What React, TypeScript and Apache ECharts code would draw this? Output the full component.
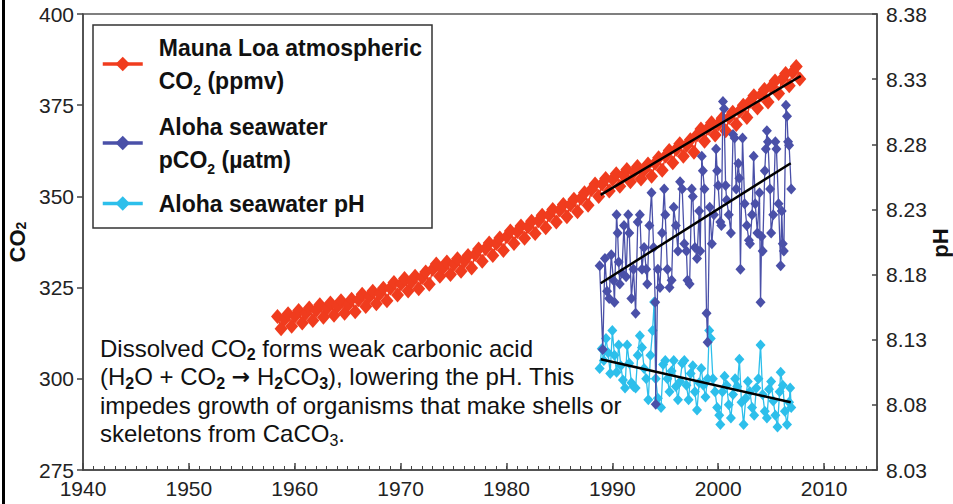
import React, { useEffect, useRef } from 'react';
import * as echarts from 'echarts';

// ---------- DATA ----------
const xTickYears = [1940, 1950, 1960, 1970, 1980, 1990, 2000, 2010];
const co2Ticks = [275, 300, 325, 350, 375, 400];
const phTickLabels = ['8.03', '8.08', '8.13', '8.18', '8.23', '8.28', '8.33', '8.38'];

// Mauna Loa atmospheric CO2 (ppmv): January, May, September readings per year
const mloYear = [1958, 1959, 1960, 1961, 1962, 1963, 1964, 1965, 1966, 1967, 1968, 1969, 1970, 1971, 1972, 1973, 1974, 1975, 1976, 1977, 1978, 1979, 1980, 1981, 1982, 1983, 1984, 1985, 1986, 1987, 1988, 1989, 1990, 1991, 1992, 1993, 1994, 1995, 1996, 1997, 1998, 1999, 2000, 2001, 2002, 2003, 2004, 2005, 2006, 2007];
const mloJan = [null, 316.3, 317.2, 317.9, 318.8, 319.3, 319.9, 320.3, 321.7, 322.5, 323.3, 324.9, 326.0, 326.6, 327.8, 330.0, 330.5, 331.4, 332.3, 334.1, 335.7, 337.1, 339.0, 340.4, 341.7, 343.3, 344.9, 346.3, 347.7, 349.5, 351.9, 353.4, 354.7, 355.9, 356.7, 357.4, 359.1, 361.1, 362.9, 364.0, 367.0, 368.7, 369.9, 371.6, 373.5, 376.1, 377.8, 380.1, 382.2, 384.1];
const mloMay = [317.1, 317.8, 318.7, 319.4, 320.3, 320.8, 321.4, 321.8, 323.2, 324.0, 324.8, 326.4, 327.5, 328.1, 329.3, 331.5, 332.0, 332.9, 333.8, 335.6, 337.2, 338.6, 340.5, 341.9, 343.2, 344.8, 346.4, 347.8, 349.2, 351.0, 353.4, 354.9, 356.2, 357.4, 358.2, 358.9, 360.6, 362.6, 364.4, 365.5, 368.5, 370.2, 371.4, 373.1, 375.0, 377.6, 379.3, 381.6, 383.7, 385.6];
const mloSep = [313.7, 314.4, 315.3, 316.0, 316.9, 317.4, 318.0, 318.4, 319.8, 320.6, 321.4, 323.0, 324.1, 324.7, 325.9, 328.1, 328.6, 329.5, 330.4, 332.2, 333.8, 335.2, 337.1, 338.5, 339.8, 341.4, 343.0, 344.4, 345.8, 347.6, 350.0, 351.5, 352.8, 354.0, 354.8, 355.5, 357.2, 359.2, 361.0, 362.1, 365.1, 366.8, 368.0, 369.7, 371.6, 374.2, 375.9, 378.2, 380.3, 382.2];

// Aloha seawater pCO2 (uatm)
const pco2Time = [1988.8, 1989.1, 1989.3, 1989.5, 1989.7, 1989.9, 1990.1, 1990.2, 1990.4, 1990.5, 1990.6, 1990.7, 1990.9, 1991.1, 1991.3, 1991.5, 1991.6, 1991.8, 1992.0, 1992.2, 1992.4, 1992.6, 1992.8, 1993.0, 1993.2, 1993.3, 1993.5, 1993.7, 1993.9, 1994.05, 1994.1, 1994.3, 1994.5, 1994.7, 1994.9, 1995.0, 1995.2, 1995.4, 1995.6, 1995.8, 1996.0, 1996.2, 1996.4, 1996.6, 1996.8, 1997.0, 1997.1, 1997.3, 1997.5, 1997.6, 1997.8, 1998.0, 1998.2, 1998.3, 1998.45, 1998.55, 1998.7, 1998.9, 1999.0, 1999.2, 1999.4, 1999.6, 1999.8, 1999.9, 2000.0, 2000.2, 2000.3, 2000.45, 2000.55, 2000.7, 2000.8, 2001.0, 2001.2, 2001.4, 2001.55, 2001.7, 2001.9, 2002.0, 2002.1, 2002.3, 2002.5, 2002.7, 2002.9, 2003.0, 2003.2, 2003.35, 2003.5, 2003.7, 2003.9, 2004.0, 2004.1, 2004.2, 2004.4, 2004.5, 2004.6, 2004.7, 2004.9, 2005.0, 2005.2, 2005.4, 2005.5, 2005.7, 2005.9, 2006.0, 2006.1, 2006.2, 2006.4, 2006.5, 2006.6, 2006.7, 2006.9];
const pco2Val = [331, 308, 333, 324, 322, 334, 327, 321, 345, 340, 332, 326, 329, 342, 328, 345, 340, 322, 330, 318, 343, 345, 330, 336, 330, 326, 342, 351, 336, 321, 293, 330, 325, 340, 352, 345, 330, 325, 327, 347, 342, 335, 354, 352, 337, 335, 327, 326, 352, 350, 336, 333, 346, 335, 361, 357, 352, 318, 310, 347, 337, 345, 363, 357, 353, 343, 342, 376, 374, 353, 349, 345, 340, 367, 366, 352, 359, 355, 330, 366, 348, 342, 338, 337, 345, 361, 348, 340, 351, 321, 339, 335, 357, 363, 368, 365, 352, 340, 345, 365, 363, 348, 331, 346, 337, 335, 375, 372, 365, 364, 352];

// Aloha seawater pH
const phTime = [1988.8, 1989.0, 1989.2, 1989.4, 1989.6, 1989.8, 1990.0, 1990.2, 1990.4, 1990.6, 1990.8, 1991.0, 1991.2, 1991.4, 1991.6, 1991.8, 1992.0, 1992.2, 1992.4, 1992.6, 1992.8, 1993.0, 1993.2, 1993.4, 1993.6, 1993.8, 1993.95, 1994.1, 1994.3, 1994.6, 1994.8, 1995.0, 1995.2, 1995.4, 1995.6, 1995.8, 1996.0, 1996.2, 1996.4, 1996.6, 1996.8, 1997.0, 1997.2, 1997.4, 1997.6, 1997.8, 1998.0, 1998.2, 1998.4, 1998.6, 1998.8, 1999.0, 1999.15, 1999.3, 1999.5, 1999.7, 1999.9, 2000.1, 2000.2, 2000.4, 2000.6, 2000.8, 2001.0, 2001.2, 2001.4, 2001.6, 2001.8, 2002.0, 2002.2, 2002.4, 2002.6, 2002.8, 2003.0, 2003.2, 2003.4, 2003.6, 2003.8, 2004.0, 2004.2, 2004.4, 2004.6, 2004.8, 2005.0, 2005.2, 2005.4, 2005.6, 2005.8, 2005.9, 2006.1, 2006.3, 2006.5, 2006.7, 2006.8, 2006.9];
const phVal = [8.108, 8.123, 8.114, 8.131, 8.120, 8.104, 8.137, 8.118, 8.105, 8.126, 8.110, 8.099, 8.093, 8.126, 8.112, 8.097, 8.094, 8.093, 8.118, 8.133, 8.124, 8.108, 8.100, 8.084, 8.118, 8.137, 8.159, 8.100, 8.085, 8.078, 8.111, 8.114, 8.100, 8.090, 8.106, 8.114, 8.094, 8.084, 8.098, 8.112, 8.114, 8.095, 8.084, 8.104, 8.110, 8.090, 8.076, 8.097, 8.108, 8.095, 8.086, 8.100, 8.137, 8.131, 8.100, 8.090, 8.078, 8.072, 8.065, 8.090, 8.102, 8.095, 8.080, 8.070, 8.088, 8.100, 8.094, 8.115, 8.082, 8.065, 8.085, 8.098, 8.090, 8.078, 8.072, 8.093, 8.100, 8.126, 8.088, 8.075, 8.070, 8.092, 8.098, 8.083, 8.072, 8.063, 8.090, 8.105, 8.095, 8.075, 8.065, 8.082, 8.093, 8.078];

// Trend lines (start, end)
const trendTime = [1988.9, 2007.8];
const trendMlo = [350.4, 383.0];
const trendPco2Time = [1988.9, 2006.85];
const trendPco2 = [326.2, 359.1];
const trendPhTime = [1988.9, 2006.85];
const trendPh = [8.115, 8.082];

// ---------- STYLE ----------
const FONT = "'Liberation Sans', Arial, Helvetica, sans-serif";
const RED = '#f03c1e';
const BLUE = '#4a50a8';
const CYAN = '#2dbfeb';
const AXIS = '#444';
const PH_BASE = 803; // right axis shows pH*100 - 803

const NAME_MLO = 'Mauna Loa atmospheric CO2 (ppmv)';
const NAME_PCO2 = 'Aloha seawater pCO2 (µatm)';
const NAME_PH = 'Aloha seawater pH';

const legendLabel: Record<string, string> = {
  [NAME_MLO]: 'Mauna Loa atmospheric\nCO{s|2} (ppmv)',
  [NAME_PCO2]: 'Aloha seawater\npCO{s|2} (µatm)',
  [NAME_PH]: 'Aloha seawater pH',
};

function makeLegend(name: string, top: number) {
  return {
    show: true,
    data: [name],
    left: 101,
    top,
    orient: 'vertical',
    itemWidth: 40,
    itemHeight: 18,
    padding: 0,
    selectedMode: false,
    formatter: (n: string) => legendLabel[n],
    lineStyle: { width: 3.5 },
    textStyle: {
      fontFamily: FONT,
      fontSize: 23,
      fontWeight: 'bold',
      color: '#111',
      lineHeight: 33,
      padding: [0, 0, 0, 11],
      rich: {
        s: { fontFamily: FONT, fontSize: 14, fontWeight: 'bold', color: '#111', verticalAlign: 'bottom', lineHeight: 20 },
      },
    },
  };
}

export default function App() {
  const ref = useRef<HTMLDivElement>(null);
  useEffect(() => {
    if (!ref.current) return;
    const chart = echarts.init(ref.current, undefined, { renderer: 'svg' });

    const mloPoints: number[][] = [];
    mloYear.forEach((y, i) => {
      if (mloJan[i] !== null) mloPoints.push([y + 0.04, mloJan[i] as number]);
      mloPoints.push([y + 0.37, mloMay[i]]);
      mloPoints.push([y + 0.71, mloSep[i]]);
    });
    const pco2Points = pco2Time.map((t, i) => [t, pco2Val[i]]);
    const phPoints = phTime.map((t, i) => [t, Math.round(phVal[i] * 1000) / 10 - PH_BASE]);

    const option = {
      animation: false,
      backgroundColor: '#fff',
      grid: {
        left: 83, right: 76, top: 14, bottom: 34, containLabel: false, outerBoundsMode: 'none',
        show: true, borderColor: '#555', borderWidth: 1.5, backgroundColor: 'transparent',
      },
      legend: [makeLegend(NAME_MLO, 31), makeLegend(NAME_PCO2, 110), makeLegend(NAME_PH, 187)],
      xAxis: [
        {
          type: 'value', position: 'bottom', min: xTickYears[0], max: 2015, interval: 10,
          axisLine: { lineStyle: { color: AXIS, width: 1.5 } },
          axisTick: { inside: true, length: 7, lineStyle: { color: AXIS, width: 1.5 } },
          axisLabel: {
            showMaxLabel: false, margin: 8, fontFamily: FONT, fontSize: 21, color: '#222',
            formatter: (v: number) => String(v),
          },
          splitLine: { show: false },
        },
        {
          type: 'value', position: 'bottom', min: xTickYears[0], max: 2015, interval: 1,
          axisLine: { show: false },
          axisTick: { inside: true, length: 4, lineStyle: { color: AXIS, width: 1 } },
          axisLabel: { show: false },
          splitLine: { show: false },
        },
      ],
      yAxis: [
        {
          type: 'value', position: 'left', min: co2Ticks[0], max: co2Ticks[co2Ticks.length - 1], interval: 25,
          name: 'CO{s|2}', nameLocation: 'middle', nameRotate: 90, nameGap: 54,
          nameTextStyle: {
            fontFamily: FONT, fontSize: 22, fontWeight: 'bold', color: '#111',
            rich: { s: { fontFamily: FONT, fontSize: 14, fontWeight: 'bold', color: '#111', verticalAlign: 'bottom', lineHeight: 22 } },
          },
          axisLine: { show: true, lineStyle: { color: AXIS, width: 1.5 } },
          axisTick: { show: true, inside: false, length: 6, lineStyle: { color: AXIS, width: 1.5 } },
          axisLabel: { margin: 9, fontFamily: FONT, fontSize: 21, color: '#222' },
          splitLine: { show: false },
        },
        {
          type: 'value', position: 'right', min: 0, max: 35, interval: 5,
          axisLine: { show: true, lineStyle: { color: AXIS, width: 1.5 } },
          axisTick: { show: true, inside: true, length: 5, lineStyle: { color: AXIS, width: 1.5 } },
          axisLabel: {
            margin: 9, fontFamily: FONT, fontSize: 21, color: '#222',
            formatter: (v: number) => phTickLabels[Math.round(v / 5)],
          },
          splitLine: { show: false },
        },
      ],
      graphic: [
        { type: 'rect', shape: { x: 2, y: 0, width: 3, height: 504 }, style: { fill: '#000' }, silent: true },
        { type: 'rect', shape: { x: 93, y: 25, width: 339, height: 203 }, style: { fill: 'none', stroke: '#333', lineWidth: 1.5 }, silent: true, z: 10 },
        {
          type: 'text', x: 940, y: 243, rotation: Math.PI / 2, silent: true, z: 10,
          style: { text: 'pH', fontFamily: FONT, fontSize: 22, fontWeight: 'bold', fill: '#111', align: 'center', verticalAlign: 'middle' },
        },
        {
          type: 'text', left: 100, top: 334, silent: true, z: 10,
          style: {
            text: 'Dissolved CO{sb|2} forms weak carbonic acid\n(H{sb|2}O + CO{sb|2} {ar|→} H{sb|2}CO{sb|3}), lowering the pH. This\nimpedes growth of organisms that make shells or\nskeletons from CaCO{sr|3}.',
            fontFamily: FONT, fontSize: 24, fill: '#111', lineHeight: 28.5,
            rich: {
              sb: { fontFamily: FONT, fontSize: 16, fontWeight: 'bold', fill: '#111', verticalAlign: 'bottom', lineHeight: 22 },
              sr: { fontFamily: FONT, fontSize: 16, fill: '#111', verticalAlign: 'bottom', lineHeight: 22 },
              ar: { fontFamily: "'DejaVu Sans', sans-serif", fontSize: 22, fontWeight: 'bold', fill: '#111', lineHeight: 28.5 },
            },
          },
        },
      ],
      series: [
        {
          name: NAME_MLO, type: 'line', xAxisIndex: 0, yAxisIndex: 0, data: mloPoints,
          symbol: 'diamond', symbolSize: [13, 15], showAllSymbol: true, silent: true,
          itemStyle: { color: RED }, lineStyle: { color: RED, width: 1.5 }, z: 2,
        },
        {
          name: NAME_PH, type: 'line', xAxisIndex: 0, yAxisIndex: 1, data: phPoints,
          symbol: 'diamond', symbolSize: [10, 11], showAllSymbol: true, silent: true,
          itemStyle: { color: CYAN }, lineStyle: { color: CYAN, width: 1.3 }, z: 3,
        },
        {
          name: NAME_PCO2, type: 'line', xAxisIndex: 0, yAxisIndex: 0, data: pco2Points,
          symbol: 'diamond', symbolSize: [10, 11], showAllSymbol: true, silent: true,
          itemStyle: { color: BLUE }, lineStyle: { color: BLUE, width: 1.3 }, z: 4,
        },
        {
          name: 'trend-mlo', type: 'line', xAxisIndex: 0, yAxisIndex: 0,
          data: trendTime.map((t, i) => [t, trendMlo[i]]), symbol: 'none', silent: true,
          lineStyle: { color: '#000', width: 2.5 }, z: 6,
        },
        {
          name: 'trend-pco2', type: 'line', xAxisIndex: 0, yAxisIndex: 0,
          data: trendPco2Time.map((t, i) => [t, trendPco2[i]]), symbol: 'none', silent: true,
          lineStyle: { color: '#000', width: 2.5 }, z: 6,
        },
        {
          name: 'trend-ph', type: 'line', xAxisIndex: 0, yAxisIndex: 1,
          data: trendPhTime.map((t, i) => [t, Math.round(trendPh[i] * 1000) / 10 - PH_BASE]), symbol: 'none', silent: true,
          lineStyle: { color: '#000', width: 2.5 }, z: 6,
        },
      ],
    };
    chart.setOption(option as any);
    return () => chart.dispose();
  }, []);

  return (
    <div style={{ position: 'absolute', left: 0, top: 0, width: 953, height: 504, background: '#fff' }}>
      <div ref={ref} style={{ width: 953, height: 504 }} />
    </div>
  );
}
